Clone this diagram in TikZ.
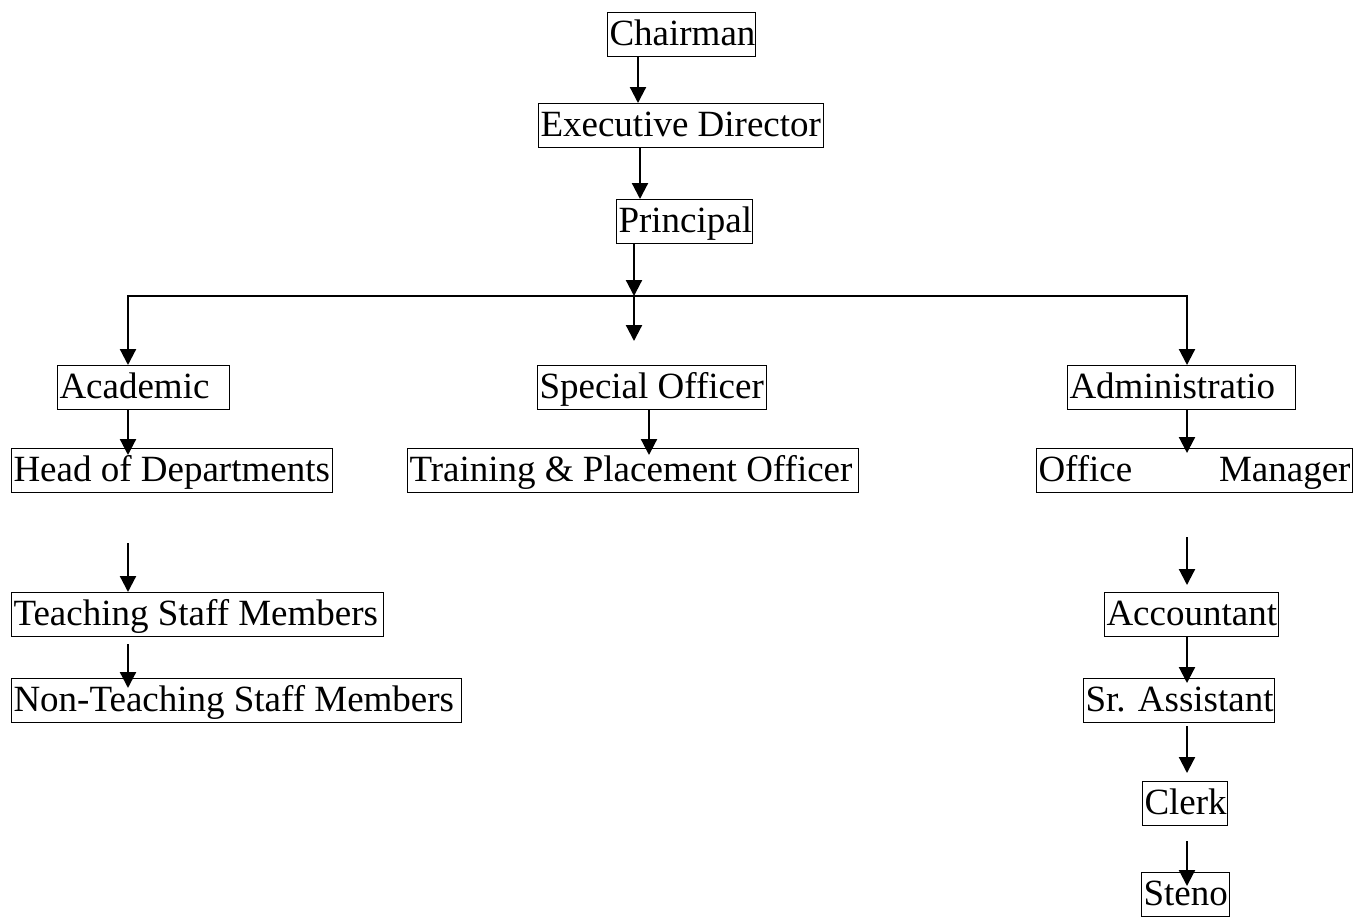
\documentclass[tikz,border=0pt]{standalone}
\usepackage{fontspec}
\setmainfont{Liberation Serif}[Ligatures=NoCommon]
\usetikzlibrary{arrows.meta}
\begin{document}
\begin{tikzpicture}[x=1pt,y=-1pt,
  box/.style={draw=black, line width=1pt, anchor=north west, inner xsep=2pt, inner ysep=0pt,
    text height=33pt, text depth=11pt, font=\fontsize{37}{44}\selectfont},
  arr/.style={line width=2.2pt, -{Triangle[length=16pt,width=16pt]}},
  bus/.style={line width=2.2pt}]
\useasboundingbox (0,0) rectangle (1370,916);
% columns of the connectors
\coordinate (xA) at (638,0);
\coordinate (xB) at (640,0);
\coordinate (xC) at (634,0);
\coordinate (xL) at (128,0);
\coordinate (xM) at (649,0);
\coordinate (xR) at (1187,0);
\coordinate (busC) at (634,296);
\coordinate (midEnd) at (634,341);
% nodes
\node[box] (chair) at (607,12) {\makebox[144pt][l]{Chairman}};
\node[box] (exec) at (538,103) {\makebox[281pt][l]{Executive Director}};
\node[box] (princ) at (616,199) {\makebox[132pt][l]{Principal}};
\node[box] (acad) at (57,365) {\makebox[168pt][l]{Academic}};
\node[box] (spec) at (537,365) {\makebox[225pt][l]{Special Officer}};
\node[box] (admin) at (1067,365) {\makebox[224pt][l]{Administratio}};
\node[box] (hod) at (11,448) {\makebox[317pt][l]{Head of Departments}};
\node[box] (train) at (407,448) {\makebox[447pt][l]{Training \& Placement Officer}};
\node[box] (office) at (1036,448) {\makebox[312pt][l]{Office\hfill Manager}};
\node[box] (teach) at (11,592) {\makebox[368pt][l]{Teaching Staff Members}};
\node[box] (nonteach) at (11,678) {\makebox[446pt][l]{Non-Teaching Staff Members}};
\node[box] (acct) at (1104,592) {\makebox[170pt][l]{Accountant}};
\node[box] (sr) at (1083,678) {\makebox[187pt][l]{Sr. Assistant}};
\node[box] (clerk) at (1142,781) {\makebox[81pt][l]{Clerk}};
\node[box] (steno) at (1141,872) {\makebox[84pt][l]{Steno}};
% connectors
\draw[arr] (chair.south -| xA) -- (exec.north -| xA);
\draw[arr] (exec.south -| xB) -- (princ.north -| xB);
\draw[arr] (princ.south -| xC) -- (busC);
\draw[arr] (busC) -| (acad.north -| xL);
\draw[arr] (busC) -| (admin.north -| xR);
\draw[arr] (busC) -- (midEnd);
\draw[arr, shorten >=-7pt] (acad.south -| xL) -- (hod.north -| xL);
\draw[arr, shorten <=50pt] (hod.south -| xL) -- (teach.north -| xL);
\draw[arr, shorten <=7pt, shorten >=-10pt] (teach.south -| xL) -- (nonteach.north -| xL);
\draw[arr, shorten >=-7pt] (spec.south -| xM) -- (train.north -| xM);
\draw[arr, shorten >=-5pt] (admin.south -| xR) -- (office.north -| xR);
\draw[arr, shorten <=44pt, shorten >=7pt] (office.south -| xR) -- (acct.north -| xR);
\draw[arr, shorten >=-5pt] (acct.south -| xR) -- (sr.north -| xR);
\draw[arr, shorten <=3pt, shorten >=8pt] (sr.south -| xR) -- (clerk.north -| xR);
\draw[arr, shorten <=15pt, shorten >=-14pt] (clerk.south -| xR) -- (steno.north -| xR);
\end{tikzpicture}
\end{document}
